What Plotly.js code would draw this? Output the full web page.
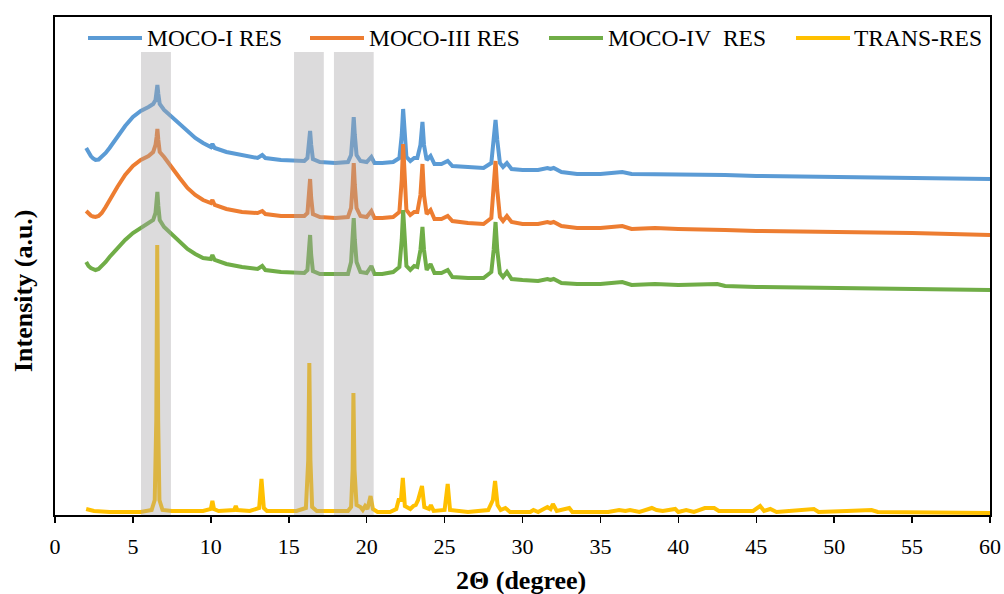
<!DOCTYPE html>
<html>
<head>
<meta charset="utf-8">
<script src="https://cdn.plot.ly/plotly-3.0.1.min.js"></script>
<style>html,body{margin:0;padding:0;background:#fff;}#chart{width:1004px;height:594px;}</style>
</head>
<body>
<div id="chart"></div>
<script>
// ---- data (2-theta in degree, intensity in arbitrary units) ----
const seriesNames = ["MOCO-I RES", "MOCO-III RES", "MOCO-IV\u00a0 RES", "TRANS-RES"];
const seriesColors = ["#5B9BD5", "#ED7D31", "#70AD47", "#FFC000"];

const mocoX = [2.0,2.15,2.3,2.45,2.6,2.8,3.0,3.25,3.5,4.0,4.5,5.0,5.5,6.0,6.3,6.45,6.52,6.57,6.63,6.72,7.0,7.5,8.0,8.5,9.0,9.5,10.0,10.1,10.25,11.0,12.0,13.0,13.3,13.5,14.5,15.5,16.0,16.2,16.3,16.37,16.44,16.55,17.0,18.0,18.8,19.0,19.1,19.17,19.24,19.35,19.6,20.0,20.3,20.5,21.0,21.7,22.1,22.25,22.34,22.42,22.55,22.8,23.05,23.25,23.45,23.58,23.68,23.85,24.1,24.35,24.8,25.2,25.5,26.5,27.5,28.0,28.15,28.27,28.38,28.55,28.75,29.0,29.3,30.0,31.0,31.6,31.8,32.0,32.5,33.5,35.0,36.4,37.0,38.5,40.0,42.5,43.0,45.0,50.0,55.0,60.0];

const mocoI = [367,362,359,356.5,355,355.5,358,362,367,378,389,398,404,408,411,415,423,430,421,411,405,398,390,383,377,372,368,371,367,363,360,357,360,357,355,354,354,357,370,384,370,356,353,352,353,360,380,398,380,360,354,353,358,352,352,353,357,380,406,380,358,354,357,357,370,393,370,355,359,351,351,354,349,348,347,352,375,395,375,352,348,352,346,345,345,347,346,347,343,341,341,343,341,341,341,341,340,339,338,337,336];

const mocoIII = [304,301,299.5,298.5,298,299,302,308,315,328,340,349,355,359,363,370,378,386,375,363,358,347,337,327,320,315,312,315,310,306,303,302,304,301,299,299,299,302,317,336,317,301,298,297,298,307,330,352,330,307,299,298,304,297,297,298,303,335,371,335,305,300,303,303,320,351,320,301,305,296,296,299,294,292,291,297,325,354,325,298,294,299,293,291,291,293,292,293,289,287,287,289,286,287,286,286,285,284,283,282,280];

const mocoIV = [253,249,247,245.5,245,246,249,253,258,267,275,282,287,291,295,302,310,323,309,295,288,281,274,266,261,257,256,260,255,251,248,246,249,245,243,242,242,245,260,280,260,244,241,241,241,253,275,297,275,253,243,242,249,241,241,243,248,275,305,275,249,245,249,248,265,288,265,245,251,242,242,245,238,237,237,243,265,293,265,242,238,243,236,235,234,236,235,236,232,231,231,233,230,231,230,231,229,228,227,226,225];

const transX = [2.0,2.5,3.5,5.5,6.2,6.4,6.5,6.56,6.62,6.7,6.9,7.5,9.5,10.0,10.1,10.2,10.5,11.5,11.6,11.7,12.5,13.1,13.25,13.4,13.6,15.5,16.1,16.25,16.32,16.39,16.5,16.8,18.8,19.0,19.1,19.15,19.22,19.35,19.6,19.75,19.9,20.05,20.25,20.4,20.7,21.5,21.9,22.05,22.2,22.32,22.45,22.8,23.0,23.15,23.3,23.55,23.7,24.0,24.12,24.3,25.0,25.2,25.35,26.5,27.8,28.1,28.24,28.4,28.6,28.9,29.2,30.5,30.7,31.0,31.6,31.8,31.95,32.2,33.0,33.2,35.5,36.2,36.6,36.9,37.5,38.3,38.6,39.0,39.8,40.0,40.5,41.0,41.7,42.0,42.3,42.6,44.8,45.25,45.5,45.9,46.3,48.7,49.0,50.8,52.4,52.8,55.0,60.0];

const transRes = [6,4,3,3,5,15,95,270,95,15,5,4,4,6,14,6,4,5,9,5,4,7,36,7,4,4,7,55,152,55,8,4,4,8,45,122,45,10,8,5,9,6,19,6,3,3,6,15,15,37,9,6,9,10,15,29,8,6,10,4,5,31,5,3,5,15,34,10,5,7,3,3,5,3,8,6,11,4,7,3,3,5,4,5,3,7,5,4,6,3,5,3,7,6.5,7,4,4,9,4,6,3,6,3,4,5,3,3,2];

// highlighted 2-theta regions
const bandStart = [5.52, 15.34, 17.9];
const bandEnd = [7.44, 17.25, 20.45];
const bandTop = 463;

const xTicks = [0,5,10,15,20,25,30,35,40,45,50,55,60];

// ---- figure ----
const serif = "'Liberation Serif', 'Times New Roman', serif";
const ys = [mocoI, mocoIII, mocoIV, transRes];
const xs = [mocoX, mocoX, mocoX, transX];
const traces = ys.map((y, i) => ({
  type: "scatter", mode: "lines", x: xs[i], y: y, name: seriesNames[i],
  line: {color: seriesColors[i], width: 4}, showlegend: false, hoverinfo: "skip"
}));

const shapes = bandStart.map((b, i) => ({
  type: "rect", xref: "x", yref: "y", x0: b, x1: bandEnd[i], y0: 0, y1: bandTop,
  fillcolor: "rgba(168,166,168,0.40)", line: {width: 0}, layer: "above"
}));

// custom legend (line samples + labels)
const legLineX0 = [88, 310, 549, 796];
const legLineX1 = [142, 364, 603, 850];
const legTextX = [145, 367, 606, 852];
const legY = 38;
const px2x = p => (p - 55) / 935;
const py2y = p => (515 - p) / 498;
const annotations = [];
seriesNames.forEach((n, i) => {
  shapes.push({type: "line", xref: "paper", yref: "paper",
    x0: px2x(legLineX0[i]), x1: px2x(legLineX1[i]), y0: py2y(legY), y1: py2y(legY),
    line: {color: seriesColors[i], width: 4}});
  annotations.push({xref: "paper", yref: "paper", x: px2x(legTextX[i]), y: py2y(legY),
    xanchor: "left", yanchor: "middle", showarrow: false, text: n,
    font: {family: serif, size: 23.5, color: "#000"}});
});
annotations.push({xref: "paper", yref: "paper", x: px2x(521), y: py2y(580),
  xanchor: "center", yanchor: "middle", showarrow: false, text: "<b>2\u0398 (degree)</b>",
  font: {family: serif, size: 26, color: "#000"}});
annotations.push({xref: "paper", yref: "paper", x: px2x(23), y: py2y(291),
  xanchor: "center", yanchor: "middle", showarrow: false, textangle: -90,
  text: "<b>Intensity (a.u.)</b>", font: {family: serif, size: 26, color: "#000"}});

const layout = {
  width: 1004, height: 594,
  margin: {l: 55, r: 14, t: 17, b: 79},
  paper_bgcolor: "#fff", plot_bgcolor: "#fff",
  showlegend: false,
  xaxis: {
    range: [0, 60], tickvals: xTicks, ticktext: xTicks.map(String),
    ticks: "outside", ticklen: 6, tickwidth: 1.5, tickcolor: "#000",
    showline: true, linecolor: "#000", linewidth: 1.6, mirror: true,
    showgrid: false, zeroline: false, ticklabelstandoff: 5,
    tickfont: {family: serif, size: 22, color: "#000"}
  },
  yaxis: {
    range: [0, 498], showticklabels: false, ticks: "",
    showline: true, linecolor: "#000", linewidth: 1.6, mirror: true,
    showgrid: false, zeroline: false
  },
  shapes: shapes,
  annotations: annotations
};

Plotly.newPlot("chart", traces, layout, {staticPlot: true, displayModeBar: false});
</script>
</body>
</html>
